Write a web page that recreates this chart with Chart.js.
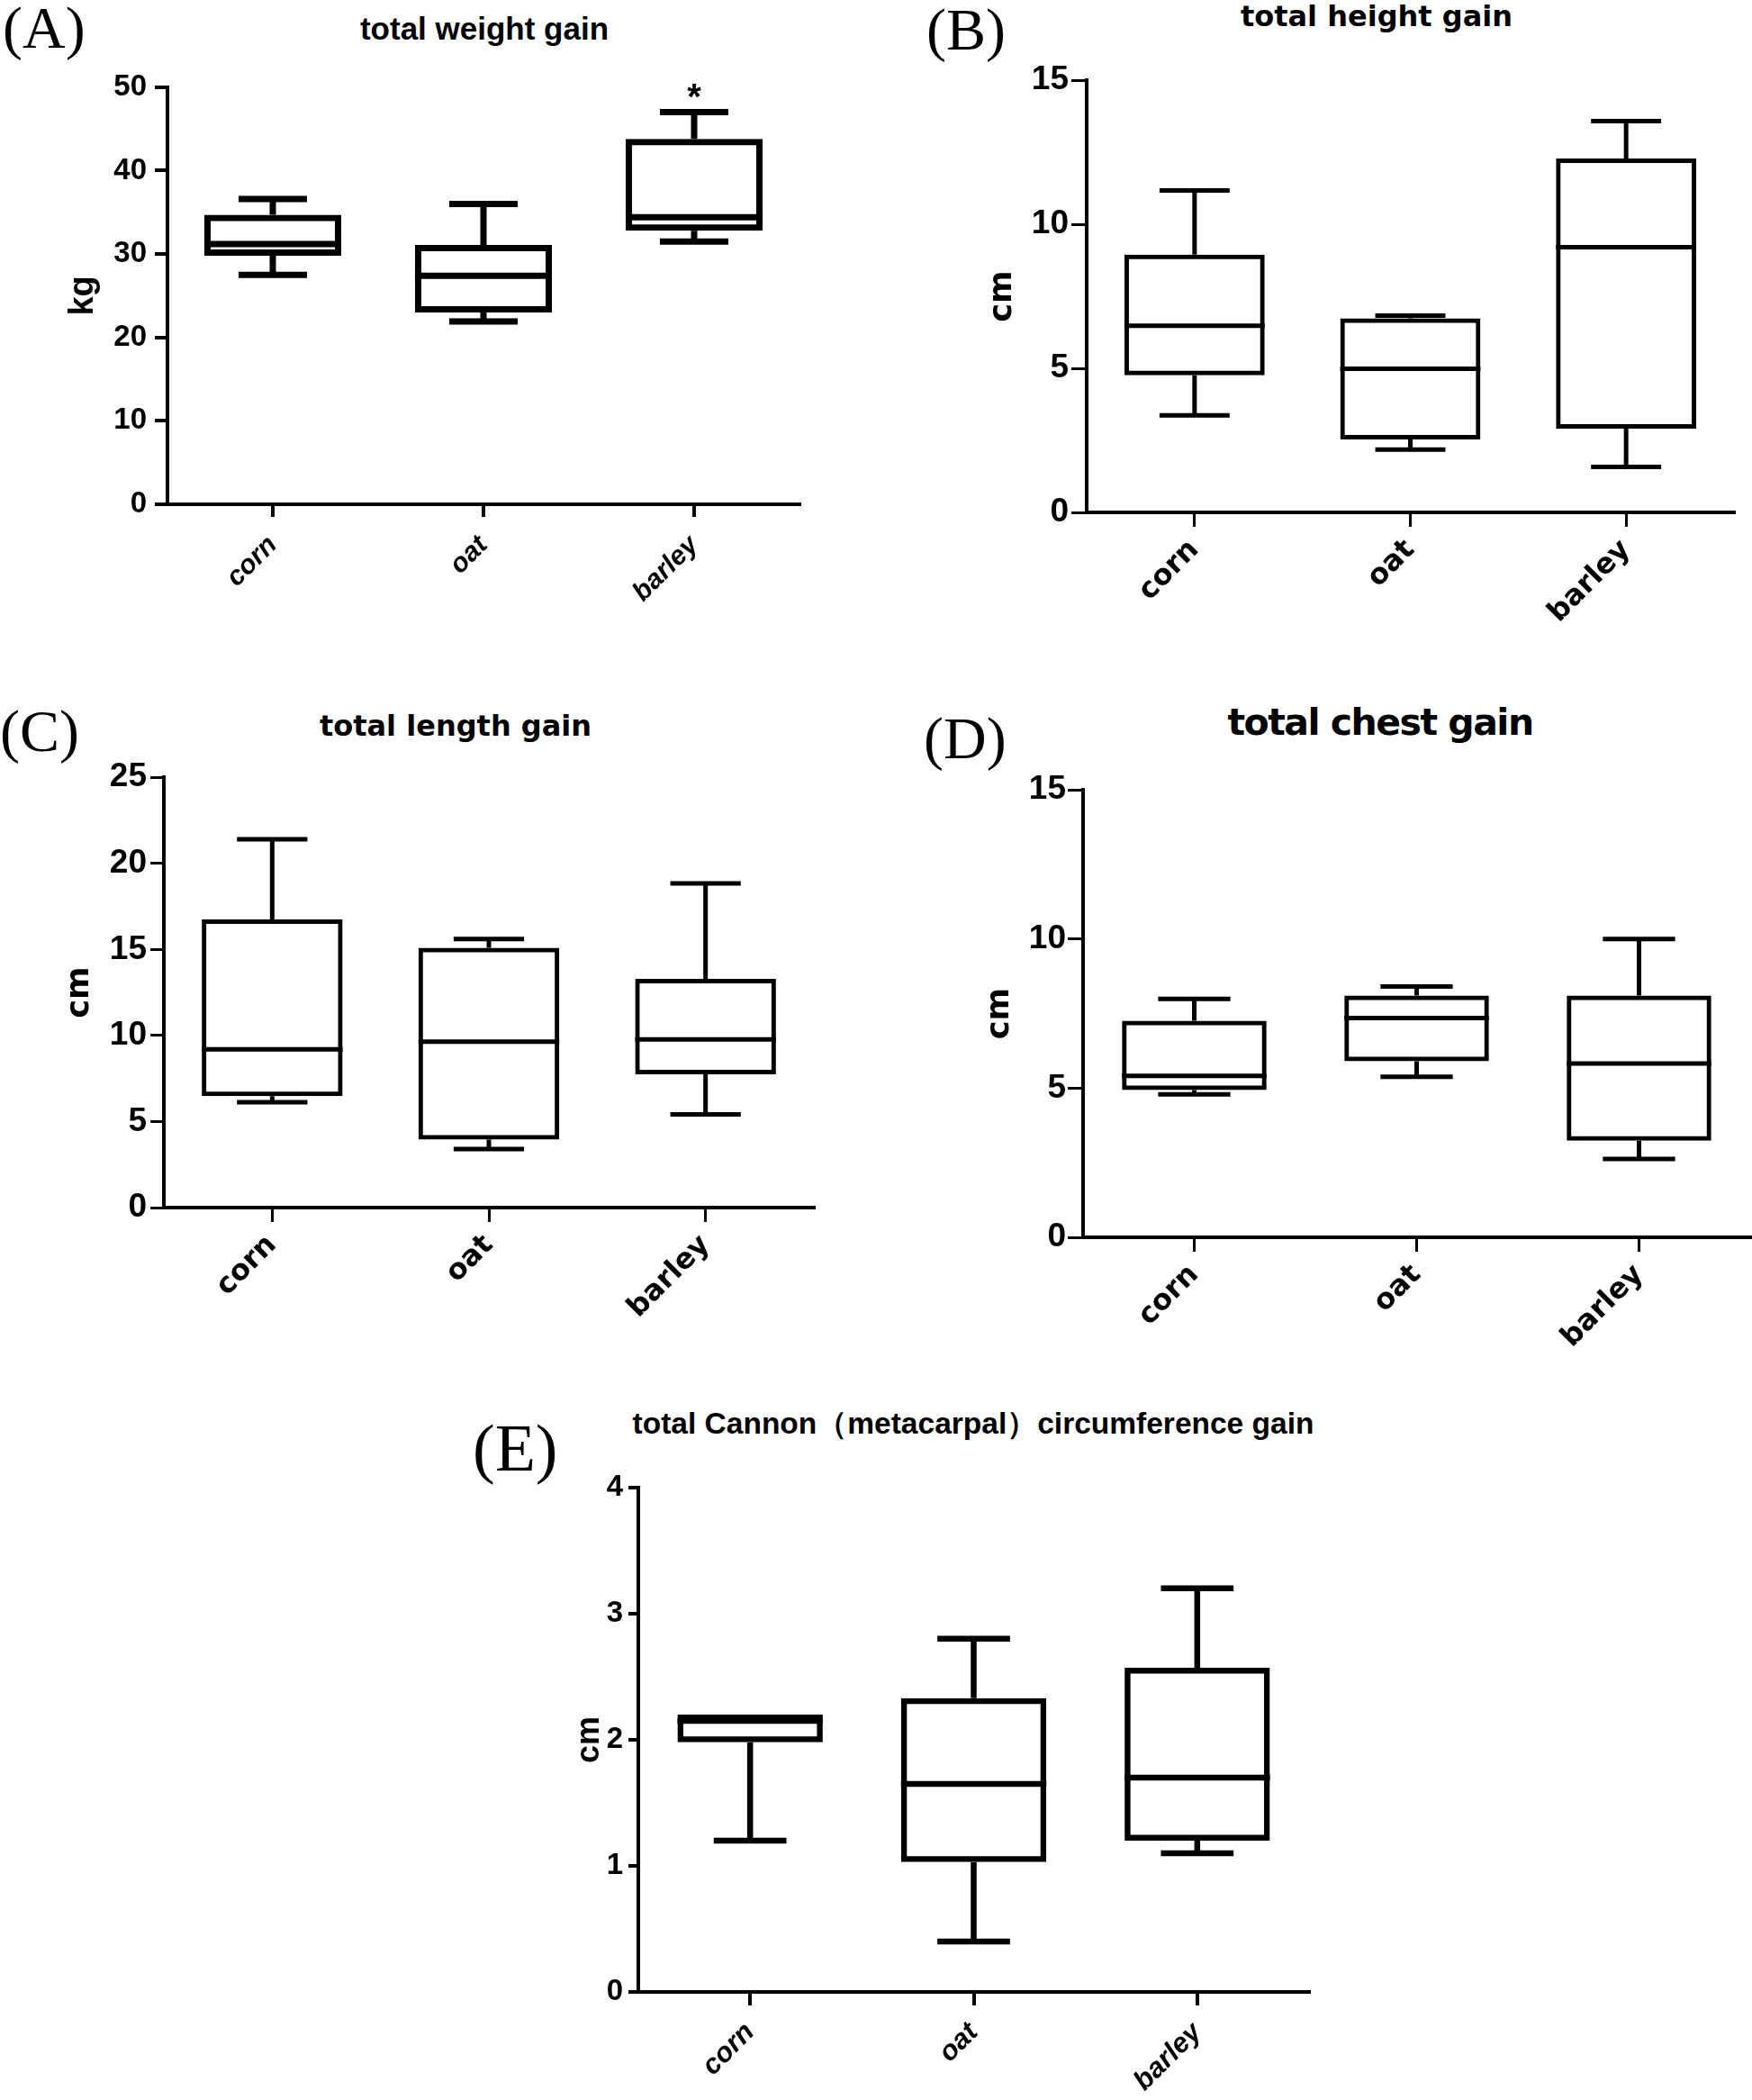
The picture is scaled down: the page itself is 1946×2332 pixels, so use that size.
<!DOCTYPE html>
<html><head><meta charset="utf-8">
<script src="https://cdn.jsdelivr.net/npm/chart.js@4.4.1/dist/chart.umd.min.js"></script>
<style>
html,body{margin:0;padding:0;background:#fff;width:1946px;height:2332px;overflow:hidden;position:relative;}
canvas{position:absolute;}
.t{position:absolute;white-space:nowrap;color:#000;line-height:1;transform:translate(-50%,-50%);}
.lt{position:absolute;white-space:nowrap;color:#000;line-height:1;font-family:'Liberation Serif','Times New Roman',serif;transform:translate(0,-50%);}
</style></head><body>
<script>
// ---------------- data ----------------
const categories = ['corn', 'oat', 'barley'];

// (A) total weight gain, kg
const weightMin    = [27.5, 21.9, 31.5];
const weightQ1     = [29.8, 23.0, 32.8];
const weightMedian = [31.2, 27.4, 34.4];
const weightQ3     = [34.7, 31.1, 43.8];
const weightMax    = [36.6, 36.0, 47.0];
const weightMarks  = ['', '', '*'];
const weightTicks  = [0, 10, 20, 30, 40, 50];

// (B) total height gain, cm
const heightMin    = [3.37, 2.18, 1.58];
const heightQ1     = [4.76, 2.53, 2.91];
const heightMedian = [6.48, 4.99, 9.21];
const heightQ3     = [8.95, 6.74, 12.29];
const heightMax    = [11.18, 6.83, 13.58];
const heightTicks  = [0, 5, 10, 15];

// (C) total length gain, cm
const lengthMin    = [6.12, 3.40, 5.41];
const lengthQ1     = [6.47, 3.95, 7.75];
const lengthMedian = [9.19, 9.64, 9.77];
const lengthQ3     = [16.74, 15.10, 13.29];
const lengthMax    = [21.40, 15.60, 18.83];
const lengthTicks  = [0, 5, 10, 15, 20, 25];

// (D) total chest gain, cm
const chestMin     = [4.79, 5.38, 2.63];
const chestQ1      = [4.94, 5.90, 3.24];
const chestMedian  = [5.41, 7.35, 5.83];
const chestQ3      = [7.26, 8.11, 8.11];
const chestMax     = [7.99, 8.41, 10.00];
const chestTicks   = [0, 5, 10, 15];

// (E) total cannon circumference gain, cm
const cannonMin    = [1.20, 0.40, 1.10];
const cannonQ1     = [1.98, 1.03, 1.20];
const cannonMedian = [2.15, 1.65, 1.70];
const cannonQ3     = [2.20, 2.33, 2.57];
const cannonMax    = [2.20, 2.80, 3.20];
const cannonTicks  = [0, 1, 2, 3, 4];

// ---------------- drawing ----------------
const statsByCanvas = new WeakMap();

const boxPlugin = {
  id: 'boxWhisker',
  afterDatasetsDraw(chart) {
    const s = statsByCanvas.get(chart.canvas);
    if (!s) return;
    const ctx = chart.ctx, xs = chart.scales.x, ys = chart.scales.y;
    const meta = chart.getDatasetMeta(0);
    ctx.save();
    ctx.strokeStyle = '#000';
    ctx.lineWidth = s.lw;
    ctx.lineCap = 'butt';
    meta.data.forEach((bar, i) => {
      const cx = xs.getPixelForValue(i);
      const w = bar.width;
      const hw = w / 2, cw = w / 4;
      const yMin = ys.getPixelForValue(s.min[i]);
      const yQ1 = ys.getPixelForValue(s.q1[i]);
      const yMed = ys.getPixelForValue(s.med[i]);
      const yQ3 = ys.getPixelForValue(s.q3[i]);
      const yMax = ys.getPixelForValue(s.max[i]);
      ctx.beginPath();
      ctx.moveTo(cx - hw, yMed); ctx.lineTo(cx + hw, yMed);
      if (yMax < yQ3 - 0.5) {
        ctx.moveTo(cx, yQ3); ctx.lineTo(cx, yMax);
        ctx.moveTo(cx - cw, yMax); ctx.lineTo(cx + cw, yMax);
      }
      if (yMin > yQ1 + 0.5) {
        ctx.moveTo(cx, yQ1); ctx.lineTo(cx, yMin);
        ctx.moveTo(cx - cw, yMin); ctx.lineTo(cx + cw, yMin);
      }
      ctx.stroke();
      if (s.marks && s.marks[i]) {
        ctx.fillStyle = '#000';
        ctx.font = 'bold 40px "Liberation Sans", Arial, sans-serif';
        ctx.textAlign = 'center';
        ctx.textBaseline = 'alphabetic';
        ctx.fillText(s.marks[i], cx, yMax - 4);
      }
    });
    ctx.restore();
  }
};

function addText(cls, txt, x, y, css) {
  const d = document.createElement('div');
  d.className = cls;
  d.textContent = txt;
  d.style.left = x + 'px';
  d.style.top = y + 'px';
  Object.assign(d.style, css || {});
  document.body.appendChild(d);
}

function makeChart(p) {
  const yw = 130, padTop = 24, padRight = 4, xh = 160;
  const W = p.r - p.l + yw + padRight, H = p.b - p.t + padTop + xh;
  const cv = document.createElement('canvas');
  cv.width = W; cv.height = H;
  cv.style.width = W + 'px'; cv.style.height = H + 'px';
  cv.style.left = (p.l - yw) + 'px'; cv.style.top = (p.t - padTop) + 'px';
  document.body.appendChild(cv);
  statsByCanvas.set(cv, { lw: p.lw, min: p.min, q1: p.q1, med: p.med, q3: p.q3, max: p.max, marks: p.marks });
  const ticks = p.ticks;
  new Chart(cv.getContext('2d'), {
    type: 'bar',
    data: {
      labels: categories,
      datasets: [{
        data: categories.map((c, i) => [p.q1[i], p.q3[i]]),
        backgroundColor: 'rgba(255,255,255,0)',
        borderColor: '#000',
        borderWidth: p.lw,
        borderSkipped: false,
        barPercentage: 0.65,
        categoryPercentage: 1
      }]
    },
    options: {
      responsive: false, animation: false, devicePixelRatio: 1,
      layout: { padding: { top: padTop, right: padRight, left: 0, bottom: 0 } },
      plugins: { legend: { display: false }, tooltip: { enabled: false }, title: { display: false } },
      scales: {
        x: {
          type: 'category', offset: true,
          grid: { display: true, offset: false, drawOnChartArea: false, drawTicks: true, tickLength: p.xTickLen, tickWidth: p.tickW, lineWidth: p.tickW, color: '#000' },
          border: { display: true, color: '#000', width: p.axisW },
          ticks: { color: '#000', font: p.xFont, minRotation: 45, maxRotation: 45, padding: p.xPad, autoSkip: false },
          afterFit(s) { s.height = xh; }
        },
        y: {
          min: ticks[0], max: ticks[ticks.length - 1],
          grid: { display: true, drawOnChartArea: false, drawTicks: true, tickLength: p.yTickLen, tickWidth: p.tickW, lineWidth: p.tickW, color: '#000' },
          border: { display: true, color: '#000', width: p.axisW },
          ticks: { stepSize: ticks[1] - ticks[0], color: '#000', font: p.yFont, padding: p.yPad },
          title: {
            display: true, text: p.yTitle, color: '#000',
            font: Object.assign({ lineHeight: 1 }, p.yTitleFont),
            padding: { top: p.yTitleX - (p.l - yw) - p.yTitleFont.size / 2, bottom: 0 }
          },
          afterFit(s) { s.width = yw; }
        }
      }
    },
    plugins: [boxPlugin]
  });
  addText('t', p.title, p.titleX, p.titleY - 0.09 * p.titleFontSize,
    { font: p.titleFont, letterSpacing: p.titleSpacing || 'normal' });
  addText('lt', p.letter, p.letterX, p.letterY - 5, { fontSize: (p.letterSize || 66) + 'px' });
}

const LIB = '"Liberation Sans", Arial, sans-serif';
const DJV = '"DejaVu Sans", "Liberation Sans", sans-serif';

makeChart({
  l: 186, t: 92, r: 888, b: 560, ticks: weightTicks,
  min: weightMin, q1: weightQ1, med: weightMedian, q3: weightQ3, max: weightMax, marks: weightMarks,
  lw: 7, axisW: 4, tickW: 4, xTickLen: 14, yTickLen: 14, yPad: 9, xPad: 14,
  yFont: { family: LIB, size: 33, weight: 'bold' },
  xFont: { family: LIB, size: 30, weight: 'bold', style: 'italic' },
  yTitle: 'kg', yTitleX: 93, yTitleFont: { family: LIB, size: 38, weight: 'bold' },
  title: 'total weight gain', titleX: 538, titleY: 35, titleFontSize: 35, titleFont: 'bold 35px ' + LIB,
  letter: '(A)', letterX: 3, letterY: 36
});

makeChart({
  l: 1207, t: 88, r: 1926, b: 569, ticks: heightTicks,
  min: heightMin, q1: heightQ1, med: heightMedian, q3: heightQ3, max: heightMax,
  lw: 5, axisW: 4, tickW: 3, xTickLen: 16, yTickLen: 17, yPad: 3, xPad: 7,
  yFont: { family: LIB, size: 37, weight: 'bold' },
  xFont: { family: DJV, size: 32, weight: 'bold' },
  yTitle: 'cm', yTitleX: 1114, yTitleFont: { family: DJV, size: 35, weight: 'bold' },
  title: 'total height gain', titleX: 1529, titleY: 21, titleFontSize: 32, titleFont: 'bold 32px ' + DJV,
  letter: '(B)', letterX: 1029, letterY: 38
});

makeChart({
  l: 182, t: 861, r: 904, b: 1341, ticks: lengthTicks,
  min: lengthMin, q1: lengthQ1, med: lengthMedian, q3: lengthQ3, max: lengthMax,
  lw: 5, axisW: 4, tickW: 3, xTickLen: 16, yTickLen: 15, yPad: 4, xPad: 7,
  yFont: { family: LIB, size: 37, weight: 'bold' },
  xFont: { family: DJV, size: 32, weight: 'bold' },
  yTitle: 'cm', yTitleX: 89, yTitleFont: { family: DJV, size: 35, weight: 'bold' },
  title: 'total length gain', titleX: 506, titleY: 809, titleFontSize: 32, titleFont: 'bold 32px ' + DJV,
  letter: '(C)', letterX: 0, letterY: 817
});

makeChart({
  l: 1203, t: 877, r: 1944, b: 1374, ticks: chestTicks,
  min: chestMin, q1: chestQ1, med: chestMedian, q3: chestQ3, max: chestMax,
  lw: 5, axisW: 4, tickW: 3, xTickLen: 16, yTickLen: 17, yPad: 2, xPad: 7,
  yFont: { family: LIB, size: 37, weight: 'bold' },
  xFont: { family: DJV, size: 32, weight: 'bold' },
  yTitle: 'cm', yTitleX: 1111, yTitleFont: { family: DJV, size: 35, weight: 'bold' },
  title: 'total chest gain', titleX: 1533, titleY: 806, titleFontSize: 41, titleFont: 'bold 41px ' + DJV, titleSpacing: '-1.5px',
  letter: '(D)', letterX: 1026, letterY: 825
});

makeChart({
  l: 709, t: 1650, r: 1454, b: 2212, ticks: cannonTicks,
  min: cannonMin, q1: cannonQ1, med: cannonMedian, q3: cannonQ3, max: cannonMax,
  lw: 6.5, axisW: 4, tickW: 4, xTickLen: 15, yTickLen: 11, yPad: 6, xPad: 12,
  yFont: { family: '"Liberation Sans Narrow", ' + LIB, size: 33, weight: 'bold' },
  xFont: { family: LIB, size: 31, weight: 'bold', style: 'italic' },
  yTitle: 'cm', yTitleX: 655, yTitleFont: { family: LIB, size: 36, weight: 'bold' },
  title: 'total Cannon（metacarpal）circumference gain', titleX: 1081, titleY: 1584, titleFontSize: 33.5, titleFont: 'bold 33.5px ' + LIB,
  letter: '(E)', letterX: 525, letterY: 1613, letterSize: 74
});
</script>
</body></html>
